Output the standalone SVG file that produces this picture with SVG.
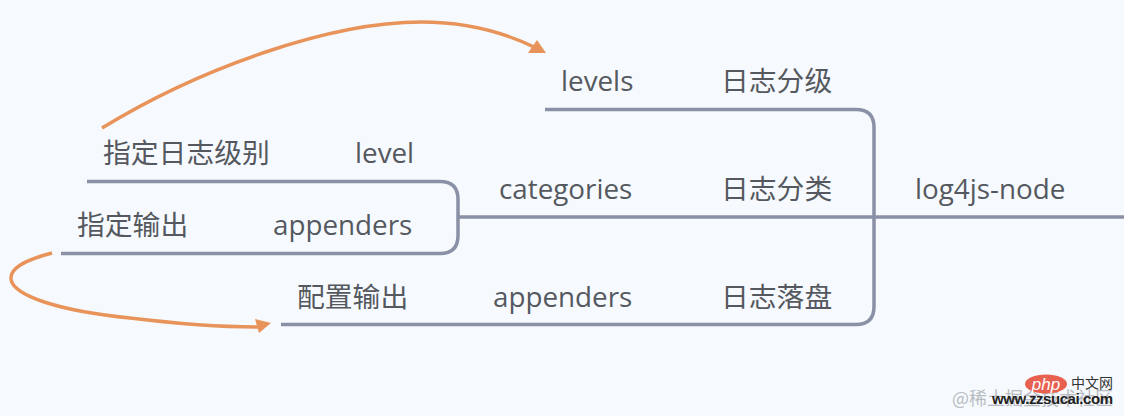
<svg xmlns="http://www.w3.org/2000/svg" width="1124" height="416" viewBox="0 0 1124 416">
<style>
.t{font-family:"Open Sans","Noto Sans CJK SC","Noto Sans",sans-serif;font-size:27.800px;fill:#55595f}
.c{font-family:"Noto Sans CJK SC",sans-serif;font-size:27.800px;fill:#55595f}
.l{fill:none;stroke:#8a90a5;stroke-width:3.500}
.o{fill:none;stroke:#e8935a;stroke-width:3.500}
.a{fill:#e8935a}
</style>
<rect width="1124" height="416" fill="#f6fafe"/>
<g id="connectors">
<path class="l" d="M545 109.500H856Q874 109.500 874 127.500V306.500Q874 324.500 856 324.500H281"/>
<path class="l" d="M458 217H1124"/>
<path class="l" d="M87 181.500H440Q458 181.500 458 199.500V235.500Q458 253.500 440 253.500H61"/>
<path class="o" d="M102 128C200 68 330 22 421 22C470 22 505 33 534 47"/>
<path class="a" d="M546 53L528 53L537 40Z"/>
<path class="o" d="M52 253C25 260 10 268 11 279C13 296 60 311 130 318C180 324 225 327 258 327"/>
<path class="a" d="M271 323L255 319L259 333Z"/>
</g>
<g id="node-levels"><text class="t" x="561" y="91">levels</text></g>
<g id="node-rizhifenji"><text class="c" x="721" y="91">日志分级</text></g>
<g id="node-zhiding-level"><text class="c" x="103" y="163">指定日志级别</text></g>
<g id="node-level"><text class="t" x="355" y="163">level</text></g>
<g id="node-categories"><text class="t" x="499" y="199">categories</text></g>
<g id="node-rizhifenlei"><text class="c" x="721" y="199">日志分类</text></g>
<g id="node-root"><text class="t" x="915" y="199">log4js-node</text></g>
<g id="node-zhiding-output"><text class="c" x="77" y="235">指定输出</text></g>
<g id="node-appenders-1"><text class="t" x="273" y="235">appenders</text></g>
<g id="node-peizhi"><text class="c" x="297" y="307">配置输出</text></g>
<g id="node-appenders-2"><text class="t" x="493" y="307">appenders</text></g>
<g id="node-luopan"><text class="c" x="721" y="307">日志落盘</text></g>
<g id="watermark">
<text x="952" y="405" font-family="Noto Sans CJK SC,sans-serif" font-size="18" fill="#b8bcc2">@稀土掘金技术社区</text>
<ellipse cx="1046" cy="384" rx="21" ry="9.500" fill="#e8604f"/>
<text x="1046" y="390" text-anchor="middle" font-family="Liberation Sans,sans-serif" font-style="italic" font-size="17" fill="#fff">php</text>
<text x="1071" y="388" font-family="Noto Sans CJK SC,sans-serif" font-size="14" fill="#333">中文网</text>
<text x="992" y="404" font-family="Liberation Sans,sans-serif" font-weight="bold" font-size="15" fill="#222" textLength="121">www.zzsucai.com</text>
</g>
</svg>
